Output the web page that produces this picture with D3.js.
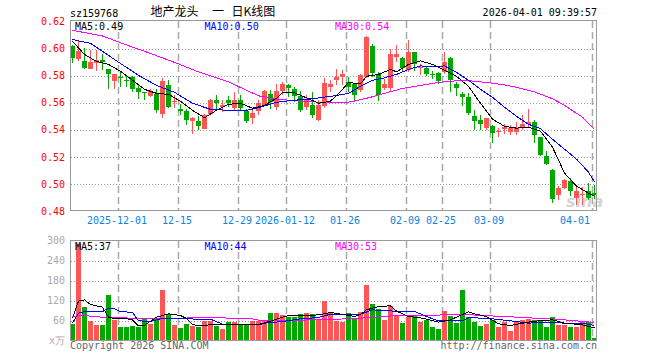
<!DOCTYPE html>
<html>
<head>
<meta charset="utf-8">
<script src="https://cdn.jsdelivr.net/npm/d3@7"></script>
<style>
body { margin: 0; background: #fff; }
svg { display: block; }
text { font-family: "DejaVu Sans Mono", monospace; font-size: 10px; }
</style>
</head>
<body>
<div id="chart"></div>
<script>
// trading days shown in the chart
const dates = [
  "2025-11-19","2025-11-20","2025-11-21","2025-11-24","2025-11-25","2025-11-26","2025-11-27","2025-11-28",
  "2025-12-01","2025-12-02","2025-12-03","2025-12-04","2025-12-05","2025-12-08","2025-12-09","2025-12-10",
  "2025-12-11","2025-12-12","2025-12-15","2025-12-16","2025-12-17","2025-12-18","2025-12-19","2025-12-22",
  "2025-12-23","2025-12-24","2025-12-25","2025-12-26","2025-12-29","2025-12-30","2025-12-31",
  "2026-01-05","2026-01-06","2026-01-07","2026-01-08","2026-01-09","2026-01-12","2026-01-13","2026-01-14",
  "2026-01-15","2026-01-16","2026-01-19","2026-01-20","2026-01-21","2026-01-22","2026-01-23","2026-01-26",
  "2026-01-27","2026-01-28","2026-01-29","2026-01-30","2026-02-02","2026-02-03","2026-02-04","2026-02-05",
  "2026-02-06","2026-02-09","2026-02-10","2026-02-11","2026-02-12","2026-02-13","2026-02-24","2026-02-25",
  "2026-02-26","2026-02-27","2026-03-02","2026-03-03","2026-03-04","2026-03-05","2026-03-06","2026-03-09",
  "2026-03-10","2026-03-11","2026-03-12","2026-03-13","2026-03-16","2026-03-17","2026-03-18","2026-03-19",
  "2026-03-20","2026-03-23","2026-03-24","2026-03-25","2026-03-26","2026-03-27","2026-03-30","2026-03-31",
  "2026-04-01"
];

const open = [.602,.5925,.5905,.5851,.5896,.5918,.5846,.5760,.5789,.5768,
  .5789,.5711,.5677,.5647,.5667,.5515,.5728,.5610,.5551,.5537,
  .5465,.5465,.5409,.5515,.5618,.5568,.5623,.5564,.5623,.5537,
  .5487,.5539,.5581,.5662,.5568,.5684,.5728,.5704,.5647,.5568,
  .5586,.5470,.5574,.5716,.5765,.5789,.5753,.5741,.5691,.5789,
  .6016,.5815,.5711,.5706,.5937,.5930,.5839,.5974,.5857,.5856,
  .5815,.5819,.5826,.5927,.5736,.5662,.5645,.5505,.5473,.5411,
  .5431,.5387,.5404,.5387,.5387,.5411,.5441,.5461,.5345,.5203,
  .5104,.4920,.4969,.5018,.4896,.4915,.4945,.4932];

const high = [.603,.6053,.6006,.5986,.5986,.5957,.5851,.5815,.5826,.5807,
  .5796,.5741,.5677,.5701,.5704,.5782,.5765,.5655,.5593,.5557,
  .5495,.5500,.5520,.5630,.5660,.5618,.5647,.5679,.5660,.5557,
  .5544,.5618,.5696,.5691,.5741,.5753,.5741,.5716,.5684,.5655,
  .5679,.5618,.5782,.5765,.5851,.5844,.5789,.5745,.5809,.6092,
  .6031,.5826,.5778,.5999,.6025,.5937,.6065,.5974,.5888,.5866,
  .5837,.5826,.5974,.5937,.5750,.5677,.5670,.5546,.5509,.5490,
  .5436,.5411,.5441,.5434,.5461,.5509,.5554,.5473,.5345,.5240,
  .5109,.4982,.5035,.5043,.4994,.4974,.5006,.4990];

const low = [.589,.5907,.5846,.5846,.5832,.5844,.5704,.5699,.5716,.5716,
  .5679,.5630,.5618,.5642,.5524,.5490,.5564,.5564,.5507,.5434,
  .5372,.5402,.5404,.5507,.5557,.5532,.5568,.5544,.5544,.5451,
  .5441,.5507,.5574,.5557,.5544,.5655,.5642,.5605,.5529,.5544,
  .5490,.5465,.5564,.5679,.5728,.5728,.5679,.5605,.5679,.5785,
  .5789,.5613,.5691,.5684,.5900,.5834,.5826,.5834,.5802,.5795,
  .5778,.5738,.5815,.5677,.5652,.5579,.5509,.5399,.5399,.5399,
  .5301,.5350,.5367,.5358,.5358,.5399,.5424,.5301,.5203,.5141,
  .4859,.4883,.4962,.4908,.4842,.4842,.4883,.4890];

const close = [.5932,.5979,.5856,.5900,.5918,.5900,.5815,.5809,.5782,.5761,
  .5701,.5677,.5675,.5684,.5544,.5758,.5568,.5613,.5537,.5470,
  .5490,.5426,.5507,.5623,.5598,.5581,.5598,.5618,.5564,.5465,
  .5524,.5598,.5684,.5605,.5684,.5741,.5711,.5647,.5544,.5618,
  .5507,.5581,.5745,.5736,.5789,.5814,.5716,.5655,.5802,.6084,
  .5819,.5655,.5741,.5957,.5957,.5859,.5974,.5888,.5867,.5815,
  .5802,.5760,.5900,.5767,.5706,.5645,.5522,.5465,.5441,.5485,
  .5375,.5394,.5417,.5411,.5411,.5441,.5456,.5362,.5215,.5146,
  .4888,.4969,.5030,.4949,.4949,.4925,.4896,.4920];

// volume, 万
const volume = [49,290,100,58,46,46,136,61,40,40,
  43,40,64,49,64,151,81,46,37,49,
  43,40,58,58,43,34,55,55,46,46,
  58,58,58,82,82,76,70,70,79,82,
  79,61,119,82,58,55,82,67,85,166,
  109,94,61,103,73,52,70,73,55,61,
  40,34,88,73,52,151,70,55,43,49,
  61,40,55,28,58,61,64,61,61,40,
  70,46,46,40,40,55,55,7];

// moving averages: [day index, value]
const ma5 = [[0,.6053],[2,.5957],[4,.5905],[6,.5883],[8,.5832],[10,.5765],[12,.5699],[14,.5669],[16,.5662],
  [18,.5611],[20,.5544],[22,.5489],[24,.5544],[26,.5588],[28,.5596],[30,.5559],[32,.5581],[34,.5633],
  [35,.5677],[37,.5673],[39,.5636],[41,.5596],[43,.5611],[45,.5699],[46,.5750],[48,.5739],[49,.5795],
  [51,.5809],[53,.5846],[54,.5828],[56,.5883],[58,.5909],[60,.5883],[62,.5839],[64,.5795],[66,.5721],
  [68,.5596],[70,.5478],[72,.5426],[74,.5412],[76,.5419],[78,.5389],[80,.5272],[82,.5080],[84,.4984],
  [86,.4932],[87,.4910]];
const ma10 = [[0,.6067],[3,.6038],[5,.5979],[8,.5890],[11,.5802],[14,.5728],[17,.5677],[20,.5596],[23,.5551],
  [26,.5544],[29,.5544],[31,.5563],[34,.5603],[36,.5614],[40,.5630],[43,.5647],[46,.5669],[48,.5721],
  [50,.5765],[52,.5784],[54,.5809],[56,.5846],[58,.5872],[60,.5865],[62,.5872],[64,.5824],[66,.5765],
  [68,.5699],[70,.5640],[72,.5566],[74,.5500],[76,.5441],[78,.5408],[80,.5330],[82,.5257],[84,.5183],
  [86,.5087],[87,.5014]];
const ma30 = [[0,.6135],[5,.6093],[9,.6027],[13,.5964],[17,.5898],[21,.5828],[26,.5754],[31,.5651],[34,.5625],
  [38,.5612],[43,.5599],[46,.5605],[48,.5622],[50,.5644],[52,.5669],[55,.5706],[58,.5728],[61,.5750],
  [64,.5762],[66,.5763],[69,.5750],[72,.5732],[74,.5714],[77,.5680],[80,.5629],[82,.5581],[85,.5493],
  [87,.5404]];

const vma5 = [[0,67],[1,118],[2,122],[3,108],[5,100],[6,70],[7,66],[9,65],[10,62],[11,44],[12,46],[14,70],
  [16,80],[18,75],[19,66],[20,48],[21,44],[23,47],[28,47],[31,48],[33,58],[35,70],[36,75],[40,75],[42,80],
  [43,84],[45,78],[47,72],[48,78],[49,92],[51,102],[53,104],[54,88],[56,72],[58,68],[60,60],[61,55],[63,62],
  [65,78],[66,86],[67,80],[69,72],[71,50],[73,45],[75,52],[77,58],[80,62],[82,52],[85,47],[87,38]];
const vma10 = [[0,52],[1,82],[2,87],[5,87],[6,97],[7,95],[8,87],[10,84],[11,59],[13,57],[15,67],[21,64],
  [23,64],[25,49],[27,47],[31,47],[32,52],[35,57],[38,65],[41,69],[43,79],[48,79],[50,92],[52,89],[57,87],
  [60,65],[61,59],[65,59],[66,69],[70,65],[73,59],[76,52],[79,55],[82,52],[85,52],[87,45]];
const vma30 = [[0,72],[2,77],[3,72],[6,69],[10,67],[13,65],[16,65],[21,69],[27,67],[30,65],[31,61],[35,60],
  [43,63],[48,67],[54,75],[59,75],[65,79],[68,75],[72,72],[75,69],[79,65],[82,62],[87,54]];

const priceTicks = [0.48, 0.50, 0.52, 0.54, 0.56, 0.58, 0.60, 0.62];
const volTicks = [0, 60, 120, 180, 240, 300];
const tickDates = ["2025-12-01","2025-12-15","2025-12-29","2026-01-12","2026-01-26","2026-02-09","2026-02-25","2026-03-09","2026-04-01"];
const tickLabels = ["2025-12-01","12-15","12-29","2026-01-12","01-26","02-09","02-25","03-09","04-01"];

const RED = "#ff5555", GREEN = "#00a800";

const svg = d3.select("#chart").append("svg")
    .attr("width", 660)
    .attr("height", 360);

const x = d3.scaleBand().domain(dates).range([70, 598]);
const yP = d3.scaleLinear().domain([0.48, 0.62]).range([211, 21.5]);
const yV = d3.scaleLinear().domain([0, 300]).range([340.5, 240.5]);

const bodyW = x.bandwidth() - 1;

// header
svg.append("text").attr("x", 70).attr("y", 16.5).text("sz159768");
svg.append("text").attr("x", 597).attr("y", 16).attr("text-anchor", "end").text("2026-04-01 09:39:57");
const title = svg.append("g").style("font-family", "'Noto Sans CJK SC'").style("font-size", "12px");
title.append("text").attr("x", 150.5).attr("y", 16).style("font-family", "inherit").style("font-size", "inherit").text("地产龙头");
title.append("text").attr("x", 212).attr("y", 16).style("font-family", "inherit").style("font-size", "inherit").text("一");
title.append("text").attr("x", 231.5).attr("y", 16).style("font-family", "inherit").style("font-size", "inherit").text("日K线图");

// grid lines
function grid(yScale, ticks, top, bottom){
    svg.append("g").selectAll("line")
        .data(ticks)
        .enter().append("line")
        .attr("x1", 71).attr("x2", 596)
        .attr("y1", d => Math.round(yScale(d)) + 0.5)
        .attr("y2", d => Math.round(yScale(d)) + 0.5)
        .attr("stroke", "#999")
        .attr("stroke-dasharray", "1,2");

    svg.append("g").selectAll("line")
        .data(tickDates)
        .enter().append("line")
        .attr("x1", d => x(d) + 0.5).attr("x2", d => x(d) + 0.5)
        .attr("y1", top).attr("y2", bottom)
        .attr("stroke", "#aaa")
        .attr("stroke-width", 1.5)
        .attr("stroke-dasharray", "7,4");
}
grid(yP, priceTicks.slice(1, -1), 21, 210);
grid(yV, volTicks.slice(1, -1), 241, 340);

// watermark
svg.append("text")
    .attr("x", 566).attr("y", 207)
    .style("font-family", "'DejaVu Sans'")
    .style("font-size", "16px")
    .style("font-style", "italic")
    .style("font-weight", "bold")
    .attr("fill", "#d4d4d4")
    .text("sina");

// candles
const candles = svg.append("g").attr("shape-rendering", "crispEdges");
dates.forEach((d, i) => {
    const col = close[i] >= open[i] ? RED : GREEN;
    candles.append("rect")
        .attr("x", x(d) + 2).attr("width", 1)
        .attr("y", yP(high[i]))
        .attr("height", Math.max(1, yP(low[i]) - yP(high[i])))
        .attr("fill", col);
    const top = yP(Math.max(open[i], close[i]));
    const bot = yP(Math.min(open[i], close[i]));
    candles.append("rect")
        .attr("x", x(d)).attr("width", bodyW)
        .attr("y", top)
        .attr("height", Math.max(1, bot - top))
        .attr("fill", col);
});

// volume bars
svg.append("g").attr("shape-rendering", "crispEdges")
    .selectAll("rect")
    .data(dates)
    .enter().append("rect")
    .attr("x", d => x(d))
    .attr("width", bodyW)
    .attr("y", (d, i) => yV(volume[i]))
    .attr("height", (d, i) => yV(0) - yV(volume[i]))
    .attr("fill", (d, i) => close[i] >= open[i] ? RED : GREEN);

// moving average lines (aliased like the original)
function maLine(data, yScale, color){
    const line = d3.line()
        .x(d => x(dates[d[0]]) + 2.5)
        .y(d => yScale(d[1]));
    svg.append("path")
        .datum(data)
        .attr("d", line)
        .attr("fill", "none")
        .attr("stroke", color)
        .attr("stroke-width", 1)
        .attr("shape-rendering", "crispEdges");
}
maLine(ma30, yP, "#ff00ff");
maLine(ma10, yP, "#0000ff");
maLine(ma5, yP, "#000");
maLine(vma30, yV, "#ff00ff");
maLine(vma10, yV, "#0000ff");
maLine(vma5, yV, "#000");

// panel borders
svg.append("rect").attr("x", 70.5).attr("y", 20.5).attr("width", 526).attr("height", 190)
    .attr("fill", "none").attr("stroke", "#999");
svg.append("rect").attr("x", 70.5).attr("y", 240.5).attr("width", 526).attr("height", 100)
    .attr("fill", "none").attr("stroke", "#999");

// axes
const pAxis = svg.append("g")
    .attr("transform", "translate(70,0)")
    .call(d3.axisLeft(yP).tickValues(priceTicks).tickFormat(d3.format(".2f")).tickSize(0).tickPadding(5));
pAxis.select(".domain").remove();
pAxis.selectAll("text").attr("fill", "#ff0000").style("font-family", "'DejaVu Sans Mono'").style("font-size", "10px");

const vAxis = svg.append("g")
    .attr("transform", "translate(70,0)")
    .call(d3.axisLeft(yV).tickValues(volTicks).tickFormat(d => d === 0 ? "x万" : d).tickSize(0).tickPadding(5));
vAxis.select(".domain").remove();
vAxis.selectAll("text").attr("fill", "#aaa").style("font-family", "'DejaVu Sans Mono'").style("font-size", "10px");

const xAxis = svg.append("g")
    .attr("transform", "translate(-4,211)")
    .call(d3.axisBottom(x).tickValues(tickDates).tickFormat((d, i) => tickLabels[i]).tickSize(0).tickPadding(6));
xAxis.select(".domain").remove();
xAxis.selectAll("text").attr("fill", "#0a84df").style("font-family", "'DejaVu Sans Mono'").style("font-size", "10px");
xAxis.selectAll("text").filter(d => d === tickDates[tickDates.length - 1])
    .attr("text-anchor", "end").attr("x", -1);

// MA legends
const legends = [
    {y: 29.5, items: [["MA5:0.49", "#000", 75], ["MA10:0.50", "#0000ff", 204.5], ["MA30:0.54", "#ff00ff", 335]]},
    {y: 249.5, items: [["MA5:37", "#000", 75], ["MA10:44", "#0000ff", 204.5], ["MA30:53", "#ff00ff", 335]]}
];
legends.forEach(l => {
    l.items.forEach(it => {
        svg.append("text").attr("x", it[2]).attr("y", l.y).attr("fill", it[1]).text(it[0]);
    });
});

// footer
svg.append("text").attr("x", 70).attr("y", 349).attr("fill", "#666").text("Copyright 2026 SINA.COM");
svg.append("text").attr("x", 597).attr("y", 349).attr("text-anchor", "end").attr("fill", "#666").text("http://finance.sina.com.cn");
</script>
</body>
</html>
